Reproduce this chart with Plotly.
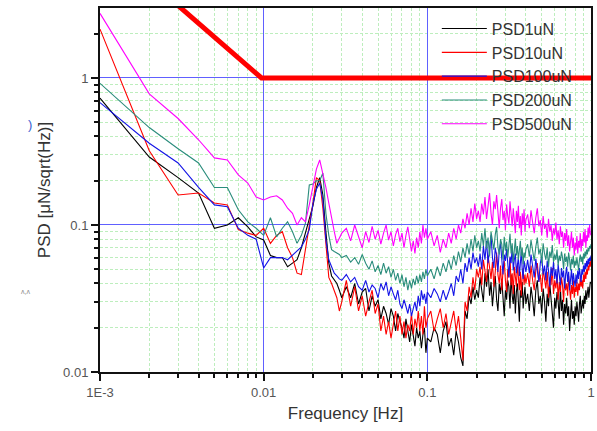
import plotly.graph_objects as go

# Frequency bins in mHz (shared by all PSD series)
freq_mhz = [1, 2, 3, 4, 5, 6, 7, 8, 9, 10, 11, 12, 13, 14, 15, 16, 17, 18, 19, 20,
            21, 22, 23, 24, 25, 26, 27, 28, 29, 30,
            32, 34, 36, 38, 40, 42, 44, 46, 48, 50, 52, 54, 56, 58, 60, 62, 64, 66, 68, 70,
            72, 74, 76, 78, 80, 82, 84, 86, 88, 90, 92, 94, 96, 98, 100,
            105, 110, 115, 120, 125, 130, 135, 140, 145, 150, 155, 160, 165, 170, 175, 180,
            185, 190, 195, 200,
            205, 210, 215, 220, 225, 230, 235, 240, 245, 250, 255, 260, 265, 270, 275, 280,
            285, 290, 295, 300, 305, 310, 315, 320, 325, 330, 335, 340, 345, 350, 355, 360,
            365, 370, 375, 380, 385, 390, 395, 400,
            410, 420, 430, 440, 450, 460, 470, 480, 490, 500, 510, 520, 530, 540, 550, 560,
            570, 580, 590, 600, 610, 620, 630, 640, 650, 660, 670, 680, 690, 700, 710, 720,
            730, 740, 750, 760, 770, 780, 790, 800, 810, 820, 830, 840, 850, 860, 870, 880,
            890, 900, 910, 920, 930, 940, 950, 960, 970, 980, 990, 1000]

psd_1uN = [0.73, 0.29, 0.21, 0.165, 0.095, 0.10, 0.112, 0.097, 0.083, 0.079, 0.062, 0.06, 0.06, 0.052, 0.055,
           0.058, 0.07, 0.09, 0.11, 0.135, 0.18, 0.21, 0.16, 0.09, 0.055, 0.045, 0.042, 0.04, 0.036, 0.032,
           0.038, 0.032, 0.04, 0.029, 0.035, 0.037, 0.026, 0.033, 0.028, 0.031,
           0.023, 0.028, 0.025, 0.021, 0.027, 0.024, 0.019, 0.025, 0.022, 0.02,
           0.017, 0.023, 0.019, 0.016, 0.021, 0.018, 0.015, 0.02, 0.017, 0.019,
           0.0145, 0.018, 0.02, 0.0135, 0.017,
           0.016, 0.02, 0.018, 0.0135, 0.019, 0.022, 0.015, 0.017, 0.013, 0.019,
           0.016, 0.0125, 0.011, 0.026, 0.023, 0.033, 0.029, 0.038, 0.031, 0.036,
           0.032, 0.044, 0.036, 0.03, 0.047, 0.038, 0.05, 0.033, 0.041, 0.028,
           0.037, 0.045, 0.031, 0.026, 0.04, 0.034, 0.043, 0.029, 0.024, 0.036,
           0.031, 0.042, 0.038, 0.027, 0.046, 0.033, 0.029, 0.039, 0.025, 0.035,
           0.04, 0.03, 0.022, 0.036, 0.032, 0.041, 0.027, 0.033, 0.038, 0.029,
           0.034, 0.026, 0.038, 0.031, 0.024, 0.036, 0.042, 0.029, 0.033, 0.025,
           0.037, 0.03, 0.022, 0.034, 0.028, 0.04, 0.031, 0.026, 0.02, 0.032,
           0.027, 0.035, 0.03, 0.023, 0.038, 0.026, 0.031, 0.021, 0.029, 0.025,
           0.032, 0.024, 0.028, 0.019, 0.027, 0.031, 0.023, 0.026, 0.021, 0.028,
           0.024, 0.03, 0.026, 0.022, 0.029, 0.033, 0.025, 0.028, 0.031, 0.027,
           0.033, 0.029, 0.036, 0.031, 0.034, 0.038, 0.032, 0.037, 0.041, 0.04]

psd_10uN = [2.15, 0.32, 0.16, 0.165, 0.141, 0.137, 0.093, 0.088, 0.085, 0.095, 0.075, 0.085, 0.09, 0.07, 0.06,
            0.047, 0.046, 0.068, 0.1, 0.141, 0.21, 0.2, 0.13, 0.071, 0.044, 0.04, 0.036, 0.032, 0.026, 0.03,
            0.042, 0.028, 0.038, 0.026, 0.033, 0.024, 0.03, 0.036, 0.025, 0.029,
            0.019, 0.024, 0.018, 0.022, 0.017, 0.021, 0.026, 0.019, 0.024, 0.018,
            0.022, 0.017, 0.021, 0.019, 0.025, 0.018, 0.023, 0.02, 0.026, 0.019,
            0.024, 0.018, 0.028, 0.02, 0.023,
            0.026, 0.019, 0.023, 0.027, 0.02, 0.025, 0.018, 0.022, 0.026, 0.019,
            0.024, 0.017, 0.012, 0.03, 0.026, 0.038, 0.032, 0.044, 0.036, 0.05,
            0.044, 0.052, 0.039, 0.058, 0.047, 0.041, 0.062, 0.05, 0.043, 0.056,
            0.038, 0.048, 0.065, 0.046, 0.04, 0.053, 0.036, 0.049, 0.057, 0.042,
            0.035, 0.05, 0.044, 0.06, 0.039, 0.047, 0.034, 0.052, 0.043, 0.038,
            0.055, 0.041, 0.036, 0.048, 0.033, 0.045, 0.051, 0.039, 0.046, 0.04,
            0.047, 0.038, 0.053, 0.042, 0.036, 0.049, 0.055, 0.041, 0.046, 0.035,
            0.05, 0.043, 0.037, 0.048, 0.032, 0.044, 0.039, 0.051, 0.034, 0.042,
            0.037, 0.046, 0.031, 0.041, 0.035, 0.044, 0.039, 0.03, 0.043, 0.036,
            0.04, 0.033, 0.045, 0.037, 0.031, 0.039, 0.034, 0.042, 0.032, 0.038,
            0.035, 0.041, 0.033, 0.04, 0.036, 0.044, 0.038, 0.042, 0.037, 0.046,
            0.041, 0.048, 0.043, 0.05, 0.046, 0.053, 0.049, 0.056, 0.052, 0.06]

psd_100uN = [0.68, 0.36, 0.264, 0.18, 0.137, 0.133, 0.095, 0.085, 0.08, 0.051, 0.06, 0.06, 0.06, 0.058, 0.062,
             0.066, 0.071, 0.08, 0.093, 0.14, 0.175, 0.193, 0.148, 0.079, 0.058, 0.052, 0.047, 0.045, 0.043, 0.042,
             0.046, 0.041, 0.044, 0.038, 0.036, 0.042, 0.035, 0.039, 0.037, 0.032,
             0.04, 0.036, 0.041, 0.033, 0.038, 0.034, 0.031, 0.036, 0.029, 0.027,
             0.031, 0.028, 0.025, 0.029, 0.024, 0.027, 0.03, 0.026, 0.033, 0.028,
             0.036, 0.031, 0.034, 0.029, 0.035,
             0.032, 0.037, 0.034, 0.03, 0.036, 0.031, 0.035, 0.04, 0.033, 0.045,
             0.041, 0.05, 0.04, 0.055, 0.048, 0.06, 0.05, 0.065, 0.055, 0.06,
             0.052, 0.064, 0.05, 0.072, 0.058, 0.078, 0.055, 0.066, 0.085, 0.06,
             0.051, 0.07, 0.062, 0.048, 0.067, 0.075, 0.054, 0.046, 0.063, 0.057,
             0.069, 0.05, 0.044, 0.061, 0.055, 0.071, 0.049, 0.058, 0.064, 0.047,
             0.053, 0.06, 0.045, 0.056, 0.066, 0.05, 0.043, 0.057, 0.052, 0.048,
             0.058, 0.047, 0.063, 0.052, 0.044, 0.059, 0.05, 0.041, 0.055, 0.061,
             0.046, 0.053, 0.042, 0.057, 0.049, 0.038, 0.052, 0.045, 0.056, 0.043,
             0.05, 0.04, 0.054, 0.047, 0.039, 0.051, 0.044, 0.049, 0.037, 0.046,
             0.052, 0.041, 0.048, 0.036, 0.045, 0.05, 0.039, 0.047, 0.042, 0.038,
             0.046, 0.04, 0.049, 0.043, 0.051, 0.045, 0.041, 0.05, 0.046, 0.053,
             0.048, 0.055, 0.05, 0.057, 0.052, 0.059, 0.054, 0.06, 0.057, 0.062]

psd_200uN = [0.92, 0.46, 0.33, 0.264, 0.18, 0.18, 0.127, 0.105, 0.095, 0.085, 0.112, 0.083, 0.095, 0.105, 0.09,
             0.075, 0.085, 0.103, 0.187, 0.19, 0.2, 0.2, 0.226, 0.12, 0.085, 0.068, 0.066, 0.064, 0.063, 0.06,
             0.062, 0.056, 0.06, 0.054, 0.063, 0.055, 0.05, 0.057, 0.048, 0.053,
             0.046, 0.055, 0.047, 0.052, 0.044, 0.05, 0.042, 0.047, 0.04, 0.046,
             0.038, 0.044, 0.036, 0.042, 0.037, 0.043, 0.039, 0.045, 0.04, 0.046,
             0.041, 0.048, 0.043, 0.05, 0.045,
             0.05, 0.043, 0.052, 0.045, 0.055, 0.048, 0.058, 0.05, 0.062, 0.053,
             0.066, 0.056, 0.07, 0.06, 0.075, 0.063, 0.08, 0.066, 0.085, 0.07,
             0.078, 0.066, 0.088, 0.072, 0.095, 0.069, 0.082, 0.061, 0.09, 0.075,
             0.068, 0.086, 0.097, 0.071, 0.063, 0.08, 0.074, 0.058, 0.083, 0.067,
             0.077, 0.06, 0.07, 0.087, 0.064, 0.075, 0.056, 0.068, 0.081, 0.062,
             0.072, 0.058, 0.066, 0.078, 0.061, 0.07, 0.054, 0.065, 0.06, 0.068,
             0.074, 0.061, 0.079, 0.066, 0.057, 0.071, 0.082, 0.063, 0.069, 0.055,
             0.075, 0.064, 0.058, 0.07, 0.052, 0.066, 0.06, 0.073, 0.056, 0.063,
             0.058, 0.068, 0.053, 0.062, 0.057, 0.066, 0.06, 0.05, 0.064, 0.056,
             0.061, 0.052, 0.065, 0.058, 0.049, 0.059, 0.054, 0.062, 0.051, 0.057,
             0.053, 0.06, 0.055, 0.049, 0.058, 0.063, 0.056, 0.061, 0.054, 0.064,
             0.059, 0.066, 0.061, 0.068, 0.063, 0.07, 0.066, 0.072, 0.069, 0.074]

psd_500uN = [2.75, 0.78, 0.53, 0.38, 0.286, 0.277, 0.219, 0.193, 0.155, 0.148, 0.155, 0.158, 0.148, 0.13, 0.12,
             0.1, 0.112, 0.105, 0.137, 0.18, 0.24, 0.277, 0.226, 0.18, 0.141, 0.11, 0.09, 0.075, 0.082, 0.088,
             0.095, 0.078, 0.1, 0.082, 0.07, 0.09, 0.076, 0.098, 0.08, 0.092,
             0.074, 0.088, 0.1, 0.079, 0.09, 0.072, 0.086, 0.095, 0.077, 0.088,
             0.07, 0.085, 0.097, 0.08, 0.066, 0.078, 0.064, 0.082, 0.07, 0.09,
             0.075, 0.1, 0.082, 0.095, 0.08,
             0.09, 0.072, 0.085, 0.065, 0.08, 0.07, 0.088, 0.075, 0.095, 0.08,
             0.1, 0.088, 0.11, 0.095, 0.12, 0.1, 0.13, 0.105, 0.14, 0.11,
             0.125, 0.105, 0.14, 0.118, 0.155, 0.11, 0.135, 0.165, 0.12, 0.1,
             0.145, 0.128, 0.16, 0.112, 0.095, 0.13, 0.15, 0.108, 0.125, 0.092,
             0.138, 0.115, 0.102, 0.145, 0.12, 0.098, 0.13, 0.11, 0.088, 0.125,
             0.105, 0.135, 0.095, 0.115, 0.085, 0.12, 0.1, 0.128, 0.09, 0.108,
             0.118, 0.095, 0.126, 0.104, 0.088, 0.112, 0.13, 0.098, 0.108, 0.085,
             0.115, 0.094, 0.102, 0.082, 0.11, 0.09, 0.1, 0.078, 0.095, 0.086,
             0.104, 0.08, 0.092, 0.074, 0.098, 0.083, 0.09, 0.07, 0.088, 0.078,
             0.094, 0.072, 0.085, 0.066, 0.08, 0.09, 0.07, 0.082, 0.062, 0.076,
             0.068, 0.084, 0.064, 0.078, 0.07, 0.088, 0.066, 0.08, 0.072, 0.09,
             0.076, 0.094, 0.07, 0.085, 0.078, 0.096, 0.082, 0.1, 0.088, 0.085]

# Requirement curve
req_freq = [0.001, 0.0097, 1.0]
req_val = [9.0, 1.0, 1.0]

series_names = ["PSD1uN", "PSD10uN", "PSD100uN", "PSD200uN", "PSD500uN"]
series_colors = ["#000000", "#ff0000", "#1414e6", "#2a8c7c", "#ff00ff"]
series_values = [psd_1uN, psd_10uN, psd_100uN, psd_200uN, psd_500uN]

x_tick_vals = [0.001, 0.01, 0.1, 1]
x_tick_text = ["1E-3", "0.01", "0.1", "1"]
y_tick_vals = [0.01, 0.1, 1]
y_tick_text = ["0.01", "0.1", "1"]

freq_hz = [f / 1000.0 for f in freq_mhz]

fig = go.Figure()
for name, color, vals in zip(series_names, series_colors, series_values):
    fig.add_trace(go.Scatter(x=freq_hz, y=vals, mode="lines", name=name,
                             line=dict(color=color, width=1.1)))

fig.add_trace(go.Scatter(x=req_freq, y=req_val, mode="lines", showlegend=False,
                         line=dict(color="#ff0000", width=5)))

minor_vals = [m * 10.0 ** e for e in range(-3, 1) for m in range(2, 10)]
minor_y = [m * 10.0 ** e for e in range(-2, 1) for m in range(2, 10)]

axis_common = dict(
    type="log", showline=True, linecolor="#111111", linewidth=2, mirror=True,
    ticks="outside", ticklen=7, tickwidth=2, tickcolor="#111111",
    showgrid=True, gridcolor="#6060ff", gridwidth=1, zeroline=False,
    tickfont=dict(family="Arial, Liberation Sans", size=13, color="#555555"),
    title_font=dict(family="Arial, Liberation Sans", size=17, color="#333333"),
)
minor_common = dict(tickmode="array", ticks="outside", ticklen=4, tickwidth=2,
                    tickcolor="#111111", showgrid=True, gridcolor="#bdeebd",
                    griddash="3px,2px", gridwidth=1)

fig.update_xaxes(
    **axis_common,
    range=[-3, 0],
    tickmode="array", tickvals=x_tick_vals, ticktext=x_tick_text,
    minor=dict(tickvals=minor_vals, **minor_common),
    title=dict(text="Frequency [Hz]", standoff=9),
)
fig.update_yaxes(
    **axis_common,
    range=[-2, 0.476],
    tickmode="array", tickvals=y_tick_vals, ticktext=y_tick_text,
    minor=dict(tickvals=minor_y, **minor_common),
    title=dict(text="PSD [μN/sqrt(Hz)]", standoff=8),
)

fig.add_annotation(text=")", xref="paper", yref="paper", x=-0.15, y=0.705,
                   showarrow=False, font=dict(size=13, color="#3a5fd0", family="Arial"))
fig.add_annotation(text="ʌ,ʌ", xref="paper", yref="paper", x=-0.165, y=0.205,
                   showarrow=False, font=dict(size=7, color="#8a8a8a", family="Arial"))

fig.update_layout(
    width=597, height=431,
    margin=dict(l=100, r=2, t=8, b=59),
    paper_bgcolor="white", plot_bgcolor="white",
    font=dict(family="Arial, Liberation Sans", color="#333333"),
    legend=dict(x=0.686, y=0.99, xanchor="left", yanchor="top",
                bgcolor="rgba(0,0,0,0)", borderwidth=0, itemwidth=45,
                font=dict(family="Arial, Liberation Sans", size=16, color="#333333"),
                tracegroupgap=0),
    showlegend=True,
)

fig.write_html("out.html", config={"displayModeBar": False},
               post_script="document.body.style.margin='0';")
